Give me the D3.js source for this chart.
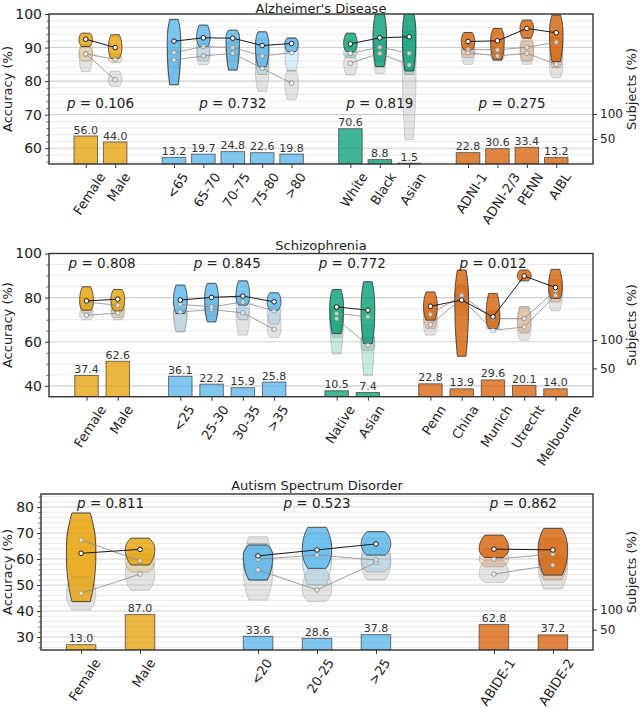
<!DOCTYPE html>
<html><head><meta charset="utf-8">
<script src="https://cdn.jsdelivr.net/npm/d3@7"></script>
<style>body{margin:0;background:#fff} svg{font-family:"DejaVu Sans",sans-serif}</style>
</head><body><svg id="c" width="640" height="708"></svg>
<script>
const COLORS = {sex:"#E69F00", age:"#56B4E9", race:"#009E73", site:"#D55E00"};

// ---- Alzheimer's Disease ----
const adCategories = ["Female","Male","<65","65-70","70-75","75-80",">80","White","Black","Asian","ADNI-1","ADNI-2/3","PENN","AIBL"];
const adGroups = ["sex","sex","age","age","age","age","age","race","race","race","site","site","site","site"];
const adSubjects = [56.0,44.0,13.2,19.7,24.8,22.6,19.8,70.6,8.8,1.5,22.8,30.6,33.4,13.2];
const adMedian = [92.5,90.0,91.9,92.9,92.8,90.6,91.2,91.1,92.9,93.2,91.8,92.0,95.7,94.4];
const adLow = [90.3,86.8,78.9,90.3,83.3,84.3,88.8,88.8,84.3,83.0,89.3,86.3,92.8,85.8];
const adHigh = [94.3,93.8,98.4,96.7,95.2,94.7,92.8,94.3,100.5,101,94.5,95.7,98.2,99.7];
const adRef1Median = [88.1,86.5,88.5,90.3,90.0,87.5,88.5,88.3,90.1,88.3,89.5,89.3,90.1,91.6];
const adRef1Low = [86,85.5,84,86,86,82,83,87,86,82,87,86.5,86,84];
const adRef1High = [91,88,92,92,92,92.5,93,90,93,95,91,92,93,95];
const adRef2Median = [88.1,80.4,86.3,87.5,88.3,83.8,79.4,85.3,88.3,84.8,88.5,87.5,88.3,85.0];
const adRef2Low = [82.8,78.4,79,84.8,83.3,76.9,74.4,81.8,82.3,62.5,85,86,85,81];
const adRef2High = [90.3,83,90,91.3,91.8,90.3,83.3,87.8,91.3,101,90,90,92,93];
const adPValues = ["0.106","0.732","0.819","0.275"];
const adYTicks = [60,70,80,90,100];

// ---- Schizophrenia ----
const szCategories = ["Female","Male","<25","25-30","30-35",">35","Native","Asian","Penn","China","Munich","Utrecht","Melbourne"];
const szGroups = ["sex","sex","age","age","age","age","race","race","site","site","site","site","site"];
const szSubjects = [37.4,62.6,36.1,22.2,15.9,25.8,10.5,7.4,22.8,13.9,29.6,20.1,14.0];
const szMedian = [78.5,79.3,78.9,80.1,80.7,78.1,75.8,74.3,76.1,78.9,71.3,89.8,84.6];
const szLow = [74.3,74.0,72.8,69.0,76.6,74.3,63.7,59.2,69.8,53.4,66.0,87.6,79.6];
const szHigh = [84.9,83.7,85.7,86.5,87.6,82.2,83.7,87.2,82.6,92.5,81.9,92.5,92.8];
const szRef1Median = [78.0,76.5,77.0,75.8,78.0,74.0,72.8,71.3,72.4,81.1,70.5,70.5,83.4];
const szRef1Low = [73,71,64.5,72,70,68,54.6,44.8,66,76,67,64,78];
const szRef1High = [80,78,74.3,79,80,76,76,62,78,86,74,76,88];
const szRef2Median = [72.0,73.0,73.5,74.6,73.1,65.7,70.5,58.4,67.8,79.6,65.2,66.7,81.1];
const szRef2Low = [70,70,64.5,70,63,61.9,62,56,63,72,66,60.7,74];
const szRef2High = [76,76,75,78,75.8,74.3,75,68,75,85,74,75.8,84];
const szPValues = ["0.808","0.845","0.772","0.012"];
const szYTicks = [40,60,80,100];

// ---- Autism Spectrum Disorder ----
const asdCategories = ["Female","Male","<20","20-25",">25","ABIDE-1","ABIDE-2"];
const asdGroups = ["sex","sex","age","age","age","site","site"];
const asdSubjects = [13.0,87.0,33.6,28.6,37.8,62.8,37.2];
const asdMedian = [62.2,63.7,61.2,63.5,65.8,63.8,63.5];
const asdLow = [43.6,57.7,51.9,56.4,61.5,60.6,53.8];
const asdHigh = [77.7,68.0,65.4,72.2,70.5,69.2,71.8];
const asdRef1Median = [67.3,59.3,59.9,61.5,59.6,59.9,61.9];
const asdRef1Low = [53,55,52,50,55,57,52];
const asdRef1High = [75,64,66,70,68,64,68];
const asdRef2Median = [46.8,54.2,55.8,48.1,58.6,54.2,57.7];
const asdRef2Low = [40.4,48,44.2,43.6,51.9,50.9,48.5];
const asdRef2High = [53.2,62,68.6,55.8,64.1,59.6,61.3];
const asdPValues = ["0.811","0.523","0.862"];
const asdYTicks = [30,40,50,60,70,80];

const svg = d3.select("#c");
const ANG = 57, RAD = ANG*Math.PI/180;

function violinPath(cx, hw, lo, med, hi, y){
  const n = 30, pts = [];
  for (let k=0;k<=n;k++){
    const v = lo + (hi-lo)*k/n;
    let u = v<=med ? (med-v)/Math.max(med-lo,1e-6) : (v-med)/Math.max(hi-med,1e-6);
    u = Math.min(1,Math.max(0,u));
    pts.push([v, hw*(1-0.38*Math.pow(u,2.2))]);
  }
  const right = pts.map(p=>[cx+p[1], y(p[0])]);
  const left = pts.slice().reverse().map(p=>[cx-p[1], y(p[0])]);
  return d3.line()(right.concat(left)) + "Z";
}

function drawPanel(cfg){
  const pos = []; let p = -1;
  cfg.groups.forEach((gr,i)=>{ p += (i>0 && gr!==cfg.groups[i-1]) ? 2 : 1; pos.push(p); });
  const x = d3.scaleLinear().domain(cfg.xDomain).range([cfg.left,cfg.right]);
  const y = d3.scaleLinear().domain(cfg.yDomain).range([cfg.bottom,cfg.top]);
  const ys = d3.scaleLinear().domain(cfg.sDomain).range([cfg.bottom,cfg.top]);
  const unit = x(1)-x(0);
  const g = svg.append("g");
  const cid = "clip"+cfg.key;
  svg.append("clipPath").attr("id",cid).append("rect")
    .attr("x",cfg.left).attr("y",cfg.top).attr("width",cfg.right-cfg.left).attr("height",cfg.bottom-cfg.top);
  const pg = g.append("g").attr("clip-path",`url(#${cid})`);

  const minor = d3.range(Math.ceil(cfg.yDomain[0]/cfg.minorStep)*cfg.minorStep, cfg.yDomain[1]+1e-6, cfg.minorStep)
    .filter(v=>!cfg.yTicks.includes(v));
  pg.selectAll(".gm").data(minor).join("line")
    .attr("x1",cfg.left).attr("x2",cfg.right).attr("y1",d=>y(d)).attr("y2",d=>y(d))
    .attr("stroke","#e4e4e4").attr("stroke-width",0.8);
  pg.selectAll(".gM").data(cfg.yTicks).join("line")
    .attr("x1",cfg.left).attr("x2",cfg.right).attr("y1",d=>y(d)).attr("y2",d=>y(d))
    .attr("stroke","#d0d0d0").attr("stroke-width",1.1);

  const bw = cfg.barW*unit;
  pg.selectAll(".bar").data(cfg.subjects).join("rect")
    .attr("x",(d,i)=>x(pos[i])-bw/2).attr("width",bw)
    .attr("y",d=>ys(d)).attr("height",d=>cfg.bottom-ys(d))
    .attr("fill",(d,i)=>COLORS[cfg.groups[i]]).attr("fill-opacity",0.75)
    .attr("stroke","#444").attr("stroke-opacity",0.75).attr("stroke-width",1);
  pg.selectAll(".bl").data(cfg.subjects).join("text")
    .attr("x",(d,i)=>x(pos[i])).attr("y",d=>ys(d)-2.5)
    .attr("text-anchor","middle").attr("font-size",11).attr("fill","#333")
    .text(d=>d.toFixed(1));

  const hw = cfg.violW*unit/2;
  pg.selectAll(".v2").data(cfg.ref2Med).join("path")
    .attr("d",(d,i)=>violinPath(x(pos[i]),hw,cfg.ref2Low[i],d,cfg.ref2High[i],y))
    .attr("fill","#b0b0b0").attr("fill-opacity",0.35).attr("stroke","#888").attr("stroke-opacity",0.35);
  pg.selectAll(".v1").data(cfg.ref1Med).join("path")
    .attr("d",(d,i)=>violinPath(x(pos[i]),hw,cfg.ref1Low[i],d,cfg.ref1High[i],y))
    .attr("fill",(d,i)=>COLORS[cfg.groups[i]]).attr("fill-opacity",0.22).attr("stroke","#777").attr("stroke-opacity",0.4);
  pg.selectAll(".v0").data(cfg.med).join("path")
    .attr("d",(d,i)=>violinPath(x(pos[i]),hw,cfg.low[i],d,cfg.high[i],y))
    .attr("fill",(d,i)=>COLORS[cfg.groups[i]]).attr("fill-opacity",0.78).attr("stroke","#333").attr("stroke-opacity",0.85).attr("stroke-width",1);

  const groupNames = [...new Set(cfg.groups)];
  const series = [
    {vals:cfg.ref2Med, stroke:"#8a8a8a", op:0.8},
    {vals:cfg.ref1Med, stroke:"#8a8a8a", op:0.8},
    {vals:cfg.med, stroke:"#1a1a1a", op:1}
  ];
  series.forEach(s=>{
    groupNames.forEach(gn=>{
      const idx = cfg.groups.map((gg,i)=>gg===gn?i:-1).filter(i=>i>=0);
      pg.append("path").datum(idx)
        .attr("d", d3.line().x(i=>x(pos[i])).y(i=>y(s.vals[i])))
        .attr("fill","none").attr("stroke",s.stroke).attr("stroke-opacity",s.op).attr("stroke-width",1);
    });
    pg.selectAll(null).data(s.vals).join("circle")
      .attr("cx",(d,i)=>x(pos[i])).attr("cy",d=>y(d)).attr("r",2.3)
      .attr("fill","#fff").attr("fill-opacity",s.op<1?0.6:1)
      .attr("stroke",s.stroke).attr("stroke-opacity",s.op).attr("stroke-width",1);
  });

  groupNames.forEach((gn,k)=>{
    const ps = pos.filter((pp,i)=>cfg.groups[i]===gn);
    const t = g.append("text").attr("x",x(d3.mean(ps))).attr("y",y(cfg.pY)).attr("dy","0.35em")
      .attr("text-anchor","middle").attr("font-size",13.5).attr("fill","#222");
    t.append("tspan").attr("font-style","italic").text("p");
    t.append("tspan").text(" = "+cfg.pValues[k]);
  });

  const ax = g.append("g").attr("transform",`translate(${cfg.left},0)`)
    .call(d3.axisLeft(y).tickValues(cfg.yTicks).tickSize(4).tickPadding(3).tickFormat(d3.format("d")));
  ax.select(".domain").remove();
  ax.selectAll("text").attr("font-size",14).attr("fill","#222").attr("font-family","DejaVu Sans");
  ax.selectAll("line").attr("stroke","#333");
  const axm = g.append("g").attr("transform",`translate(${cfg.left},0)`)
    .call(d3.axisLeft(y).tickValues(minor).tickSize(2.5).tickFormat(""));
  axm.select(".domain").remove(); axm.selectAll("line").attr("stroke","#333").attr("stroke-width",0.8);

  const ar = g.append("g").attr("transform",`translate(${cfg.right},0)`)
    .call(d3.axisRight(ys).tickValues([50,100]).tickSize(4).tickPadding(3));
  ar.select(".domain").remove();
  ar.selectAll("text").attr("font-size",12).attr("fill","#222").attr("font-family","DejaVu Sans");
  ar.selectAll("line").attr("stroke","#333");

  const ab = g.append("g").attr("transform",`translate(0,${cfg.bottom})`)
    .call(d3.axisBottom(x).tickValues(pos).tickSize(4).tickFormat(d=>cfg.categories[pos.indexOf(d)]));
  ab.select(".domain").remove();
  ab.selectAll("line").attr("stroke","#333");
  ab.selectAll("text").attr("font-size",13).attr("fill","#222").attr("font-family","DejaVu Sans")
    .attr("y",null).attr("dy","0.35em").attr("text-anchor","end")
    .attr("transform",function(){ const L=this.getComputedTextLength(); return `translate(${L*Math.cos(RAD)/2+3},10) rotate(${-ANG})`; });

  g.append("rect").attr("x",cfg.left).attr("y",cfg.top).attr("width",cfg.right-cfg.left).attr("height",cfg.bottom-cfg.top)
    .attr("fill","none").attr("stroke","#333").attr("stroke-width",1.4);

  const cy = (cfg.top+cfg.bottom)/2;
  g.append("text").attr("transform",`translate(12,${cy}) rotate(-90)`).attr("text-anchor","middle")
    .attr("font-size",13).attr("fill","#222").text("Accuracy (%)");
  g.append("text").attr("transform",`translate(636,${cy}) rotate(-90)`).attr("text-anchor","middle")
    .attr("font-size",13).attr("fill","#222").text("Subjects (%)");
  g.append("text").attr("x",(cfg.left+cfg.right)/2).attr("y",cfg.top-cfg.titleGap).attr("text-anchor","middle")
    .attr("font-size",13).attr("fill","#222").text(cfg.title);
}

drawPanel({key:"ad", title:"Alzheimer's Disease", titleGap:1.5, left:49, right:593, top:14, bottom:164,
  xDomain:[-1.25,17.25], yDomain:[55.3,100], sDomain:[0,300], yTicks:adYTicks, minorStep:2,
  barW:0.8, violW:0.46, categories:adCategories, groups:adGroups, subjects:adSubjects,
  med:adMedian, low:adLow, high:adHigh, ref1Med:adRef1Median, ref1Low:adRef1Low, ref1High:adRef1High,
  ref2Med:adRef2Median, ref2Low:adRef2Low, ref2High:adRef2High, pValues:adPValues, pY:73.5});

drawPanel({key:"sz", title:"Schizophrenia", titleGap:4, left:49, right:593, top:253.5, bottom:396.7,
  xDomain:[-1.2,16.2], yDomain:[35.1,100], sDomain:[0,253], yTicks:szYTicks, minorStep:5,
  barW:0.75, violW:0.44, categories:szCategories, groups:szGroups, subjects:szSubjects,
  med:szMedian, low:szLow, high:szHigh, ref1Med:szRef1Median, ref1Low:szRef1Low, ref1High:szRef1High,
  ref2Med:szRef2Median, ref2Low:szRef2Low, ref2High:szRef2High, pValues:szPValues, pY:95.6});

drawPanel({key:"asd", title:"Autism Spectrum Disorder", titleGap:4, left:41, right:593, top:494, bottom:650,
  xDomain:[-0.68,8.68], yDomain:[25,85], sDomain:[0,383], yTicks:asdYTicks, minorStep:2,
  barW:0.5, violW:0.5, categories:asdCategories, groups:asdGroups, subjects:asdSubjects,
  med:asdMedian, low:asdLow, high:asdHigh, ref1Med:asdRef1Median, ref1Low:asdRef1Low, ref1High:asdRef1High,
  ref2Med:asdRef2Median, ref2Low:asdRef2Low, ref2High:asdRef2High, pValues:asdPValues, pY:81.5});
</script></body></html>
